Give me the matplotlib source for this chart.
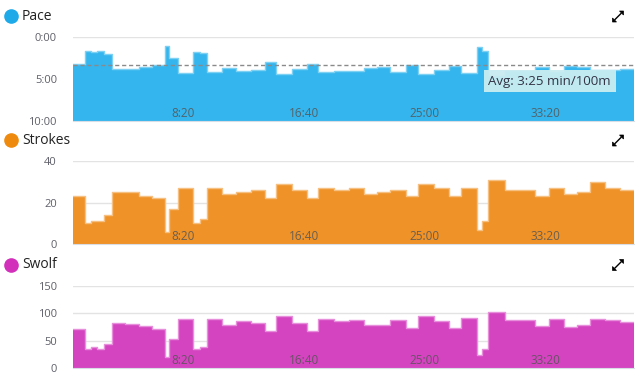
import numpy as np  # numbers
import matplotlib
matplotlib.use("Agg")
import matplotlib.pyplot as plt  # plotting
from matplotlib.lines import Line2D
from matplotlib.patches import Polygon

plt.rcParams['font.family'] = ['Open Sans', 'DejaVu Sans']

# one value per pool length (25 m)
start_time = 44  # seconds, start of the first length
length_seconds = [48, 27, 26, 26, 33, 56, 57, 55, 51, 17, 39, 63, 28, 29, 63, 57, 62, 58, 47, 65,
                  61, 48, 64, 62, 62, 56, 54, 64, 52, 65, 61, 52, 66, 18, 25, 73, 62, 62, 56, 63,
                  54, 54, 61, 62, 59]
pace_sec = [197, 104, 112, 100, 126, 231, 231, 214, 202, 64, 152, 259, 109, 116, 254, 226, 245, 236, 183, 266,
            233, 193, 254, 247, 247, 226, 219, 254, 205, 264, 240, 207, 259, 74, 100, 284, 244, 244, 214, 249,
            207, 214, 240, 240, 233]
strokes = [23, 10, 11, 11, 14, 25, 25, 23, 22, 6, 17, 27, 10, 12, 27, 24, 25, 26, 22, 29,
           26, 22, 27, 26, 27, 24, 25, 26, 23, 29, 27, 23, 27, 7, 11, 31, 26, 26, 23, 27,
           24, 25, 30, 27, 26]
swolf = [72, 35, 38, 35, 45, 82, 81, 76, 71, 21, 54, 90, 35, 39, 90, 78, 86, 83, 67, 95,
         83, 68, 90, 86, 87, 79, 78, 88, 73, 95, 86, 74, 91, 24, 35, 102, 87, 87, 76, 89,
         75, 78, 90, 87, 84]
avg_pace = 205  # 3:25
x_ticks = [500, 1000, 1500, 2000]
x_labels = ["8:20", "16:40", "25:00", "33:20"]

edges = start_time + np.concatenate([[0], np.cumsum(length_seconds)])

W, H = 639, 376
fig = plt.figure(figsize=(W / 100, H / 100), dpi=100)

def px(x, y):
    # pixel position -> figure fraction
    return (x / W, 1 - y / H)

def px_axes(top, bottom):
    # axes box from pixel rows
    return fig.add_axes([73 / W, 1 - bottom / H, 561 / W, (bottom - top) / H])

def style(ax, yticks, ylabels, ylim):
    ax.set_xlim(edges[0], edges[-1])
    ax.set_ylim(*ylim)
    ax.set_yticks(yticks)
    ax.set_yticklabels(ylabels)
    ax.set_xticks([])
    for s in ['top', 'right', 'left']:
        ax.spines[s].set_visible(False)
    ax.spines['bottom'].set_color('#d8dde6')
    ax.grid(axis='y', color='#e3e3e3', linewidth=1)
    ax.set_axisbelow(True)
    ax.tick_params(axis='y', length=0, pad=11.5, labelsize=8, labelcolor='#5f5f6a')
    # time labels sit inside the plot, over the fill
    for t, lab in zip(x_ticks, x_labels):
        ax.text(t, 0.09, lab, transform=ax.get_xaxis_transform(), ha='center', va='center',
                fontsize=8.5, color='#555555', alpha=0.85, zorder=6)

def header(y, name, color):
    fig.lines.append(Line2D([10.5 / W], [1 - y / H], marker='o', markersize=9.5, color=color,
                            transform=fig.transFigure))
    fig.text(22 / W, 1 - y / H, name, fontsize=10, color='#222222', va='center')
    # expand icon: two small arrow heads pointing out
    cx, cy = 618, y + 0.5
    ne = [px(cx + 5.5, cy - 5.5), px(cx + 1.5, cy - 5.5), px(cx + 5.5, cy - 1.5)]
    sw = [px(cx - 5.5, cy + 5.5), px(cx - 1.5, cy + 5.5), px(cx - 5.5, cy + 1.5)]
    for tri in (ne, sw):
        fig.add_artist(Polygon(tri, closed=True, transform=fig.transFigure,
                               facecolor='black', edgecolor='black', linewidth=0.5))
    a, b = px(cx - 3, cy + 3), px(cx + 3, cy - 3)
    fig.lines.append(Line2D([a[0], b[0]], [a[1], b[1]], color='black', linewidth=1.0,
                            transform=fig.transFigure))

def step_fill(ax, vals, base, fill, edge):
    y = np.append(vals, vals[-1])
    ax.fill_between(edges, y, base, step='post', color=fill, linewidth=0, zorder=2)
    ax.step(edges, y, where='post', color=edge, linewidth=1, zorder=3)

# Pace
ax1 = px_axes(36.7, 120.7)
step_fill(ax1, pace_sec, 600, '#35b5ed', '#7fd1f4')
style(ax1, [0, 300, 600], ["0:00", "5:00", "10:00"], (600, 0))
ax1.axhline(avg_pace, color='#8a8a8a', linestyle=(0, (3, 2)), linewidth=1, zorder=4)
ax1.text(0.959, 0.47, "Avg: 3:25 min/100m", transform=ax1.transAxes, ha='right', va='center',
         fontsize=9.5, color='#333344', zorder=5,
         bbox=dict(boxstyle='square,pad=0.35', facecolor='#c9ecf1', edgecolor='none', alpha=0.95))
header(16, "Pace", '#1ea9e9')

# Strokes
ax2 = px_axes(161, 244.3)
step_fill(ax2, strokes, 0, '#ef9227', '#f6c083')
style(ax2, [0, 20, 40], ["0", "20", "40"], (0, 40))
header(140, "Strokes", '#ee8a0e')

# Swolf
ax3 = px_axes(285.7, 368.3)
step_fill(ax3, swolf, 0, '#d444c0', '#e88fdc')
style(ax3, [0, 50, 100, 150], ["0", "50", "100", "150"], (0, 150))
header(264.5, "Swolf", '#d22fbb')

fig.savefig("out.png", dpi=100)
